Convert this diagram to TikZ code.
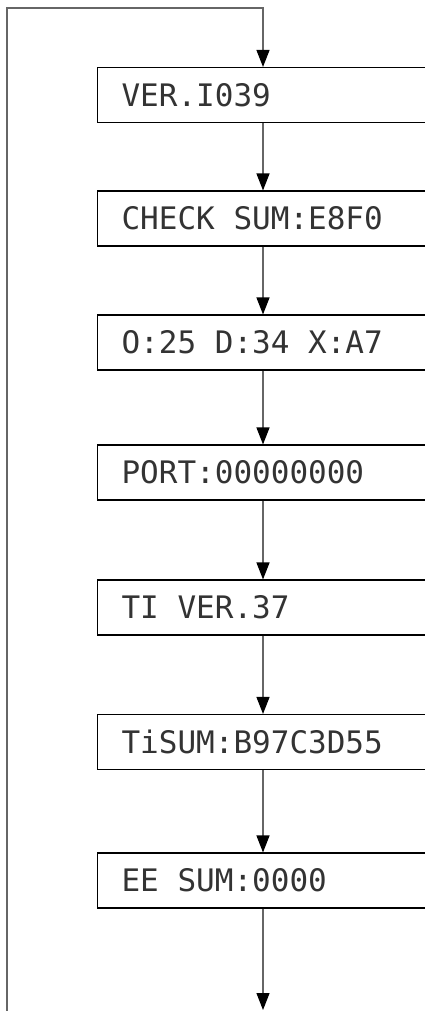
\documentclass[tikz,border=0pt]{standalone}
\usepackage{amsmath}
\usepackage{xcolor}
\usepackage{fontspec}
\setmonofont{DejaVu Sans Mono}
\usepackage{tikz}
\usetikzlibrary{arrows.meta}

\newcommand{\lcdgap}{\hphantom{0}}

\begin{document}
\begin{tikzpicture}[x=1pt,y=1pt,
		lcd/.style={draw=black,line width=1.1pt,anchor=west,minimum height=55pt,
			text width=292pt,inner xsep=24pt,align=left,text=black!80,
			font=\ttfamily\fontsize{31}{31}\selectfont},
		flow/.style={draw=black!60,line width=1.2pt,-{Triangle[length=17pt,width=13pt,black]}}]
		\useasboundingbox (0,0) rectangle (425,-1011);
		\clip (0,0) rectangle (425,-1011);
		\fill[white] (0,0) rectangle (425,-1011);

		\coordinate (spine) at (263,0);
		\node[lcd] (ver)  at (97,-95)    {VER.I039};
		\node[lcd] (csum) at (97,-218.5) {CHECK\lcdgap SUM:E8F0};
		\node[lcd] (odx)  at (97,-342.5) {O:25\lcdgap D:34\lcdgap X:A7};
		\node[lcd] (port) at (97,-472.5) {PORT:00000000};
		\node[lcd] (tver) at (97,-607.5) {TI\lcdgap VER.37};
		\node[lcd] (tsum) at (97,-742)   {TiSUM:B97C3D55};
		\node[lcd] (esum) at (97,-880.5) {EE\lcdgap SUM:0000};

		\coordinate (loopin) at (7,-1011);
		\coordinate (loopup) at (7,-8);
		\coordinate (looptop) at (263,-8);
		\coordinate (exit) at (263,-1010);

		\draw[flow] (loopin) -- (loopup) -- (looptop) -- (ver.north -| spine);
		\draw[flow] (ver.south -| spine)  -- (csum.north -| spine);
		\draw[flow] (csum.south -| spine) -- (odx.north -| spine);
		\draw[flow] (odx.south -| spine)  -- (port.north -| spine);
		\draw[flow] (port.south -| spine) -- (tver.north -| spine);
		\draw[flow] (tver.south -| spine) -- (tsum.north -| spine);
		\draw[flow] (tsum.south -| spine) -- (esum.north -| spine);
		\draw[flow] (esum.south -| spine) -- (exit);
	\end{tikzpicture}
\end{document}
